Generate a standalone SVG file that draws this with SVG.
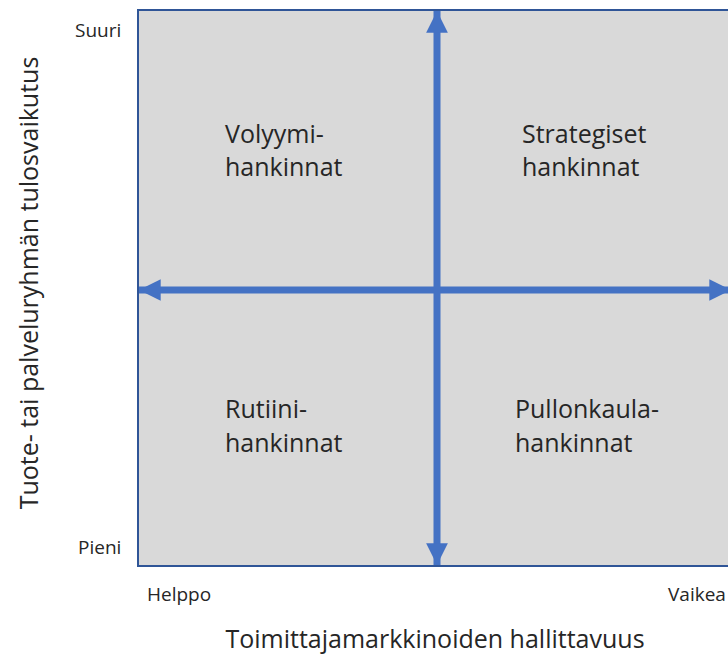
<svg xmlns="http://www.w3.org/2000/svg" width="728" height="657" viewBox="0 0 728 657">
  <style>
    text { font-family: "Open Sans", "Liberation Sans", sans-serif; fill: #262626; }
    .quad { font-size: 25px; }
    .tick { font-size: 19px; }
    .axis { font-size: 25px; }
    .arrow { stroke: #4472c4; stroke-width: 7; fill: none; }
  </style>
  <defs>
    <marker id="head" viewBox="0 0 10 10" refX="10" refY="5" markerWidth="3.1" markerHeight="3.1" markerUnits="strokeWidth" orient="auto-start-reverse">
      <path d="M0,0 L10,5 L0,10 Z" fill="#4472c4"/>
    </marker>
  </defs>

  <!-- matrix background -->
  <g id="matrix">
    <rect x="138" y="10" width="600" height="556" fill="#d9d9d9" stroke="#2f5597" stroke-width="2"/>
  </g>

  <!-- axes -->
  <g id="connectors">
    <line class="arrow" x1="437" y1="565" x2="437" y2="11" marker-start="url(#head)" marker-end="url(#head)"/>
    <line class="arrow" x1="139" y1="290" x2="731" y2="290" marker-start="url(#head)" marker-end="url(#head)"/>
  </g>

  <g id="volyymi">
    <text class="quad" x="225" y="143">Volyymi-</text>
    <text class="quad" x="225" y="176">hankinnat</text>
  </g>
  <g id="strategiset">
    <text class="quad" x="522" y="143">Strategiset</text>
    <text class="quad" x="522" y="176">hankinnat</text>
  </g>
  <g id="rutiini">
    <text class="quad" x="225" y="418">Rutiini-</text>
    <text class="quad" x="225" y="452">hankinnat</text>
  </g>
  <g id="pullonkaula">
    <text class="quad" x="515" y="418">Pullonkaula-</text>
    <text class="quad" x="515" y="452">hankinnat</text>
  </g>

  <g id="labels">
    <text class="tick" x="75" y="37">Suuri</text>
    <text class="tick" x="78" y="554">Pieni</text>
    <text class="tick" x="147" y="601">Helppo</text>
    <text class="tick" x="668" y="601">Vaikea</text>
    <text class="axis" x="435" y="648" text-anchor="middle">Toimittajamarkkinoiden hallittavuus</text>
    <text class="axis" transform="translate(38,283) rotate(-90)" text-anchor="middle">Tuote- tai palveluryhmän tulosvaikutus</text>
  </g>
</svg>
